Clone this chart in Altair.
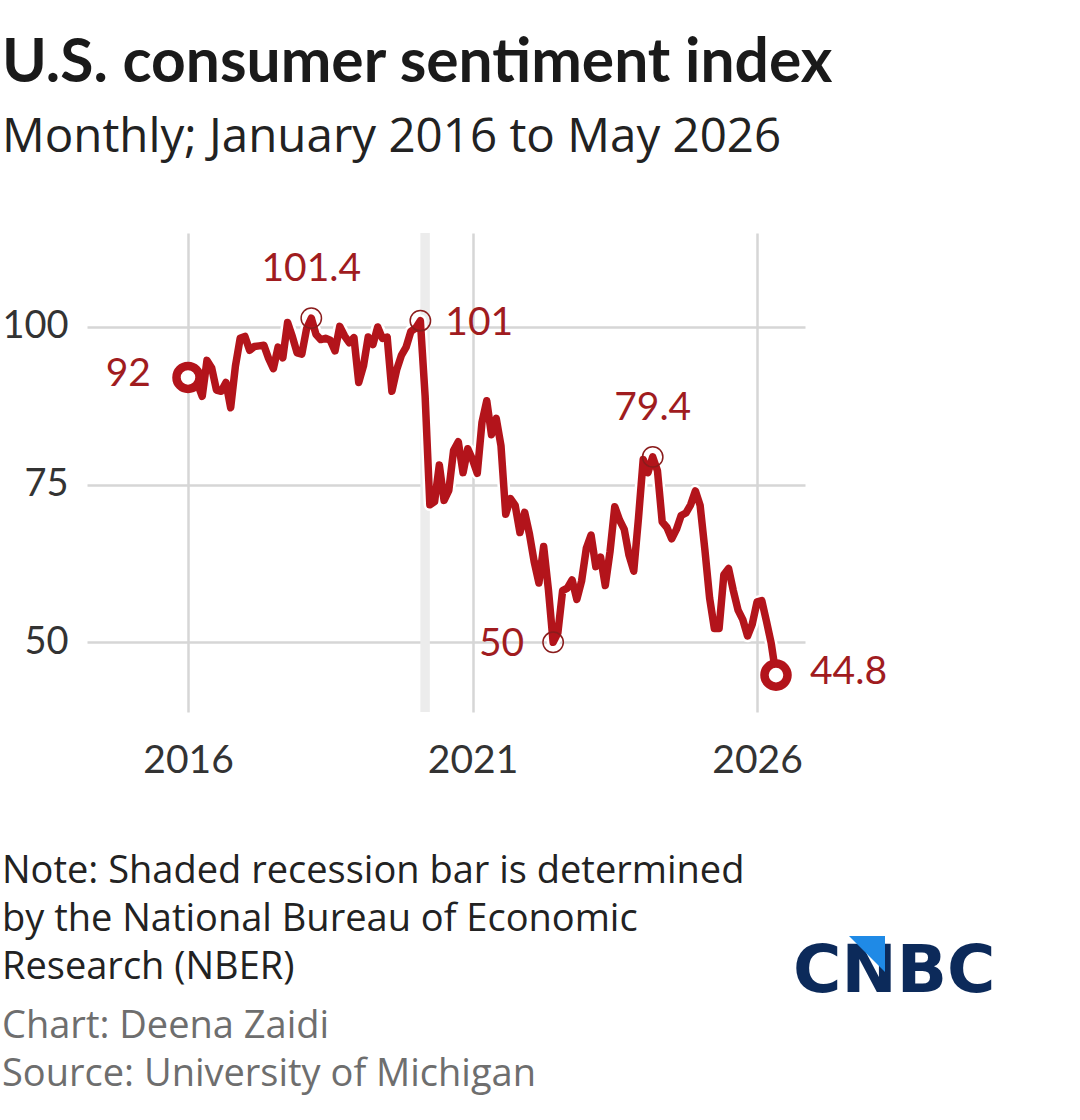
import altair as alt
import pandas as pd

# ---------------- data ----------------
v2016 = [92.0, 91.7, 91.0, 89.0, 94.7, 93.5, 90.0, 89.8, 91.2, 87.2, 93.8, 98.2]
v2017 = [98.5, 96.3, 96.9, 97.0, 97.1, 95.0, 93.4, 96.8, 95.1, 100.7, 98.5, 95.9]
v2018 = [95.7, 99.7, 101.4, 98.8, 98.0, 98.2, 97.9, 96.2, 100.1, 98.6, 97.5, 98.3]
v2019 = [91.2, 93.8, 98.4, 97.2, 100.0, 98.2, 98.4, 89.8, 93.2, 95.5, 96.8, 99.3]
v2020 = [99.8, 101.0, 89.1, 71.8, 72.3, 78.1, 72.5, 74.1, 80.4, 81.8, 76.9, 80.7]
v2021 = [79.0, 76.8, 84.9, 88.3, 82.9, 85.5, 81.2, 70.3, 72.8, 71.7, 67.4, 70.6]
v2022 = [67.2, 62.8, 59.4, 65.2, 58.4, 50.0, 51.5, 58.2, 58.6, 59.9, 56.8, 59.7]
v2023 = [64.9, 67.0, 62.0, 63.5, 59.0, 64.4, 71.5, 69.4, 67.9, 63.8, 61.3, 69.7]
v2024 = [79.0, 76.9, 79.4, 77.2, 69.1, 68.2, 66.4, 67.9, 70.1, 70.5, 71.8, 74.0]
v2025 = [71.7, 64.7, 57.0, 52.2, 52.2, 60.7, 61.7, 58.2, 55.1, 53.6, 51.0, 52.9]
v2026 = [56.4, 56.6, 53.3, 49.8, 44.8]

sentiment = v2016 + v2017 + v2018 + v2019 + v2020 + v2021 + v2022 + v2023 + v2024 + v2025 + v2026
dates = pd.date_range("2016-01-01", periods=len(sentiment), freq="MS")

recession_start = "2020-02-01"
recession_end = "2020-04-01"

# annotated points: (date, label)
ann_above = [("2018-03-01", "101.4"), ("2024-03-01", "79.4")]
ann_right_101 = [("2020-02-01", "101")]
ann_left_50 = [("2022-06-01", "50")]
ann_start = [("2016-01-01", "92")]
ann_end = [("2026-05-01", "44.8")]

x_ticks = [2016, 2021, 2026]
y_ticks = [50, 75, 100]

title = "U.S. consumer sentiment index"
subtitle = "Monthly; January 2016 to May 2026"
note = "Note: Shaded recession bar is determined\nby the National Bureau of Economic\nResearch (NBER)"
credit = "Chart: Deena Zaidi\nSource: University of Michigan"

# ---------------- helpers ----------------
def frac_year(d):
    d = pd.Timestamp(d)
    return d.year + (d.month - 1) / 12.0

df = pd.DataFrame({"t": [frac_year(d) for d in dates], "v": sentiment})
lookup = dict(zip(df["t"].round(6), df["v"]))

def ann_df(items):
    rows = []
    for d, lab in items:
        t = frac_year(d)
        rows.append({"t": t, "v": lookup[round(t, 6)], "label": lab})
    return pd.DataFrame(rows)

RED = "#b3141b"
TXT_RED = "#a01c1f"
FONT = "Lato"
FONT2 = "Open Sans"

W, H = 718, 479
xs = alt.Scale(domain=[2014.225, 2026.843], nice=False, zero=False)
ys = alt.Scale(domain=[38.95, 114.9], nice=False, zero=False)

x_axis = alt.Axis(values=x_ticks, format="d", grid=True, domain=False, ticks=False, tickSize=0,
                  labelPadding=60, labelBaseline="alphabetic", labelFontSize=39,
                  labelFont=FONT, labelColor="#333333", gridColor="#d6d6d6", gridWidth=2.5,
                  title=None, labelFlush=False)
y_axis = alt.Axis(values=y_ticks, grid=True, domain=False, ticks=False, tickSize=0,
                  labelPadding=19, labelFontSize=38, labelFont=FONT, labelColor="#333333",
                  gridColor="#d6d6d6", gridWidth=2.5, title=None, labelFlush=False)

X = alt.X("t:Q", scale=xs, axis=x_axis)
Y = alt.Y("v:Q", scale=ys, axis=y_axis)

rec = alt.Chart(pd.DataFrame({"t": [frac_year(recession_start)], "e": [frac_year(recession_end)]})).mark_rect(
    color="#ececec"
).encode(x=X, x2="e:Q", y=alt.value(0), y2=alt.value(H))

halo = alt.Chart(df).mark_line(color="white", strokeWidth=12.5, strokeJoin="round").encode(x=X, y=Y)
line = alt.Chart(df).mark_line(color=RED, strokeWidth=7.5, strokeJoin="round", strokeCap="round").encode(x=X, y=Y)

small_pts = alt.Chart(pd.concat([ann_df(ann_above), ann_df(ann_right_101), ann_df(ann_left_50)])).mark_point(
    shape="circle", filled=False, stroke="#8a1c1c", strokeWidth=1.5, size=415, opacity=1
).encode(x=X, y=Y)

big_pts = alt.Chart(pd.concat([ann_df(ann_start), ann_df(ann_end)])).mark_point(
    shape="circle", filled=True, fill="white", stroke=RED, strokeWidth=8.5, size=531, opacity=1
).encode(x=X, y=Y)

def ann_text(items, align, dx, dy):
    return alt.Chart(ann_df(items)).mark_text(
        align=align, baseline="alphabetic", dx=dx, dy=dy, font=FONT, fontSize=39, color=TXT_RED
    ).encode(x=X, y=Y, text="label:N")

t_above = ann_text(ann_above, "center", 0, -37)
t_101 = ann_text(ann_right_101, "left", 25, 14)
t_50 = ann_text(ann_left_50, "right", -29, 14)
t_92 = ann_text(ann_start, "right", -37, 9)
t_448 = ann_text(ann_end, "left", 34, 9)

def free_text(txt, x, y, size, color, weight="normal", line_h=None, font=FONT):
    kw = {}
    if line_h is not None:
        kw["lineHeight"] = line_h
    return alt.Chart(pd.DataFrame({"txt": [txt]})).mark_text(
        align="left", baseline="alphabetic", font=font, fontSize=size, color=color,
        fontWeight=weight, lineBreak="\n", **kw
    ).encode(x=alt.value(x), y=alt.value(y), text="txt:N")

OX, OY = 87, 233
t_title = free_text(title, 2 - OX, 82 - OY, 60.5, "#1a1a1a", "bold")
t_sub = free_text(subtitle, 2 - OX, 152 - OY, 47.5, "#222222", font=FONT2)
t_note = free_text(note, 2 - OX, 883 - OY, 38, "#222222", line_h=48, font=FONT2)
t_credit = free_text(credit, 2 - OX, 1038 - OY, 38, "#6e6e6e", line_h=48, font=FONT2)
t_logo = free_text("CNBC", 793 - OX, 992 - OY, 66, "#0c2a5a", "bold", font="DejaVu Sans")

logo_tri = alt.Chart(pd.DataFrame({"k": [0]})).mark_point(
    shape="M-1,-1L1,-1L1,1Z", filled=True, color="#1f8ae6", size=1300, opacity=1
).encode(x=alt.value(867 - OX), y=alt.value(954 - OY))

chart = alt.layer(
    rec, halo, line, small_pts, big_pts,
    t_above, t_101, t_50, t_92, t_448,
    t_title, t_sub, t_note, t_credit, t_logo, logo_tri,
).properties(
    width=W, height=H,
    autosize=alt.AutoSizeParams(type="none"),
    padding={"left": OX, "top": OY, "right": 1080 - OX - W, "bottom": 1120 - OY - H},
    background="white",
).configure_view(stroke=None)

chart.save("out.html", embed_options={"renderer": "svg", "actions": False})
